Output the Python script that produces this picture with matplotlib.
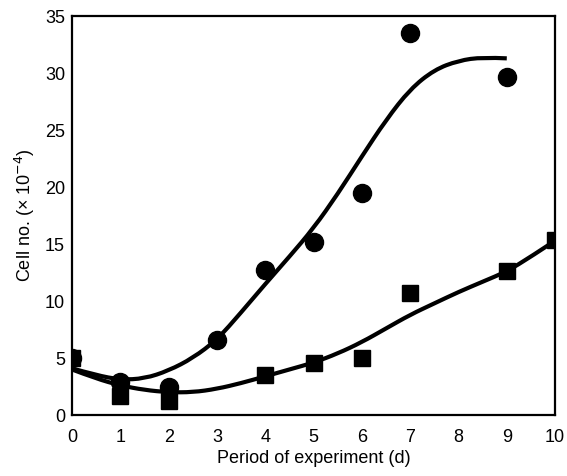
import matplotlib.pyplot as plt
from matplotlib.path import Path
from matplotlib.patches import PathPatch
import numpy as np

plt.rcParams['font.family'] = ['Liberation Sans', 'DejaVu Sans']

# measured points
dias_circ = [0, 1, 2, 3, 4, 5, 6, 7, 9]
cel_circ = [5.0, 2.9, 2.5, 6.6, 12.7, 15.2, 19.5, 33.5, 29.7]

dias_quad = [0, 1, 2, 4, 5, 6, 7, 9, 10]
cel_quad = [5.0, 1.7, 1.2, 3.5, 4.55, 5.0, 10.7, 12.6, 15.35]

# fitted curves
curva_x_circ = [0, 0.5, 1, 1.5, 2, 2.5, 3, 3.5, 4, 4.5, 5, 5.5, 6, 6.5, 7, 7.5, 8, 8.5, 9]
curva_y_circ = [4.1, 3.5, 3.1, 3.2, 3.9, 5.0, 6.6, 9.0, 11.5, 13.9, 16.4, 19.4, 22.7, 25.9, 28.6, 30.3, 31.1, 31.4, 31.3]

curva_x_quad = [0, 0.5, 1, 1.5, 2, 2.5, 3, 3.5, 4, 4.5, 5, 5.5, 6, 6.5, 7, 7.5, 8, 8.5, 9, 9.5, 10]
curva_y_quad = [4.0, 3.2, 2.6, 2.2, 2.0, 2.0, 2.3, 2.8, 3.4, 4.0, 4.6, 5.4, 6.4, 7.6, 8.8, 9.8, 10.8, 11.7, 12.6, 13.9, 15.3]


def curva_suave(ax, xs, ys):
    # quadratic bezier through midpoints, readings used as control points
    pts = list(zip(xs, ys))
    verts = [pts[0]]
    codes = [Path.MOVETO]
    for i in range(1, len(pts) - 1):
        mid = ((pts[i][0] + pts[i + 1][0]) / 2, (pts[i][1] + pts[i + 1][1]) / 2)
        if i == len(pts) - 2:
            mid = pts[-1]
        verts += [pts[i], mid]
        codes += [Path.CURVE3, Path.CURVE3]
    patch = PathPatch(Path(verts, codes), fill=False, lw=3, edgecolor='black',
                      capstyle='butt', zorder=2)
    ax.add_patch(patch)


fig = plt.figure(figsize=(5.67, 4.76), dpi=100)
ax = fig.add_axes([0.127, 0.128, 0.852, 0.838])

curva_suave(ax, curva_x_circ, curva_y_circ)
curva_suave(ax, curva_x_quad, curva_y_quad)
ax.plot(dias_circ, cel_circ, 'o', color='black', ms=13, zorder=3)
ax.plot(dias_quad, cel_quad, 's', color='black', ms=12, zorder=3)

ax.set_xlim(0, 10)
ax.set_ylim(0, 35)
ax.set_xticks(np.arange(0, 11, 1))
ax.set_yticks(np.arange(0, 36, 5))
ax.tick_params(length=0, labelsize=13)
ax.tick_params(axis='x', pad=10)
ax.tick_params(axis='y', pad=5)
for s in ax.spines.values():
    s.set_linewidth(1.6)

ax.set_xlabel('Period of experiment (d)', fontsize=13, labelpad=3)
ax.set_ylabel('Cell no. (× 10$^{-4}$)', fontsize=13, labelpad=6)

fig.savefig('out.png', dpi=100)
